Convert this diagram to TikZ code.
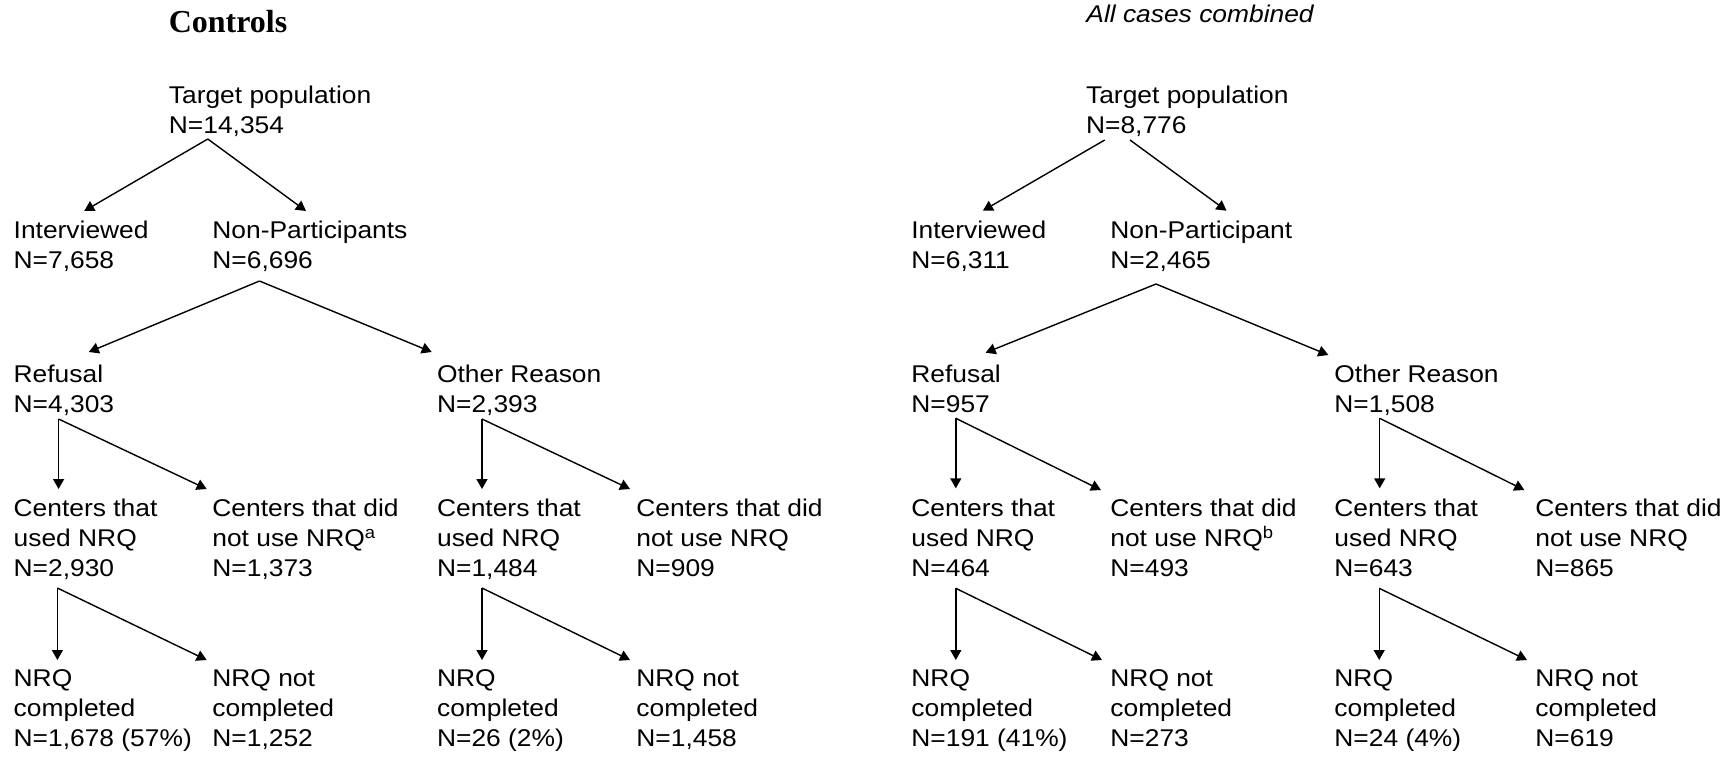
\documentclass[tikz,border=0pt]{standalone}
\usepackage{fontspec}
\setmainfont{Liberation Sans}[FakeStretch=1.09]
\newfontfamily\titlefont{Liberation Serif}
\usetikzlibrary{arrows.meta}
\tikzset{
  lbl/.style={anchor=north west, inner sep=0pt, align=left, font=\fontsize{12.1}{15}\selectfont},
  arr/.style={line width=0.7pt, -{Triangle[length=5pt,width=5.5pt]}},
}
\begin{document}
\begin{tikzpicture}[x=0.5pt,y=-0.5pt]
\useasboundingbox (0,0) rectangle (1729,757);
% titles
\node[anchor=base west, inner sep=0pt, font=\titlefont\bfseries\fontsize{16}{19}\selectfont] (t1) at (168.4,32) {Controls};
\node[anchor=base west, inner sep=0pt, font=\itshape\fontsize{12.1}{15}\selectfont] (t2) at (1086,22.5) {All cases combined};
% ---------- left tree ----------
\node[lbl] (tp1) at (168.5,85.5) {Target population\\N=14,354};
\node[lbl] (iv1) at (13.3,221) {Interviewed\\N=7,658};
\node[lbl] (np1) at (212,221) {Non-Participants\\N=6,696};
\node[lbl] (rf1) at (13.3,364.5) {Refusal\\N=4,303};
\node[lbl] (or1) at (436.7,364.5) {Other Reason\\N=2,393};
\node[lbl] (cu1) at (13.3,499) {Centers that\\used NRQ\\N=2,930};
\node[lbl] (cn1) at (212,499) {Centers that did\\not use NRQ\textsuperscript{a}\\N=1,373};
\node[lbl] (cu2) at (436.7,499) {Centers that\\used NRQ\\N=1,484};
\node[lbl] (cn2) at (636,499) {Centers that did\\not use NRQ\\N=909};
\node[lbl] (nc1) at (13.3,669.5) {NRQ\\completed\\N=1,678 (57\%)};
\node[lbl] (nn1) at (212,669.5) {NRQ not\\completed\\N=1,252};
\node[lbl] (nc2) at (436.7,669.5) {NRQ\\completed\\N=26 (2\%)};
\node[lbl] (nn2) at (636,669.5) {NRQ not\\completed\\N=1,458};
% ---------- right tree ----------
\node[lbl] (tp2) at (1085.7,85.5) {Target population\\N=8,776};
\node[lbl] (iv2) at (911,221) {Interviewed\\N=6,311};
\node[lbl] (np2) at (1110,221) {Non-Participant\\N=2,465};
\node[lbl] (rf2) at (911,364.5) {Refusal\\N=957};
\node[lbl] (or2) at (1334,364.5) {Other Reason\\N=1,508};
\node[lbl] (cu3) at (911,499) {Centers that\\used NRQ\\N=464};
\node[lbl] (cn3) at (1110,499) {Centers that did\\not use NRQ\textsuperscript{b}\\N=493};
\node[lbl] (cu4) at (1334,499) {Centers that\\used NRQ\\N=643};
\node[lbl] (cn4) at (1535,499) {Centers that did\\not use NRQ\\N=865};
\node[lbl] (nc3) at (911,669.5) {NRQ\\completed\\N=191 (41\%)};
\node[lbl] (nn3) at (1110,669.5) {NRQ not\\completed\\N=273};
\node[lbl] (nc4) at (1334,669.5) {NRQ\\completed\\N=24 (4\%)};
\node[lbl] (nn4) at (1535,669.5) {NRQ not\\completed\\N=619};
% ---------- connector ends ----------
\coordinate (tp1-o) at (207.8,139);
\coordinate (iv1-i) at (84.2,211);
\coordinate (np1-i) at (306,211);
\coordinate (np1-o) at (259.5,281);
\coordinate (rf1-i) at (88.8,352);
\coordinate (or1-i) at (431.7,352);
\coordinate (rf1-o) at (58.6,419);
\coordinate (cu1-i) at (58.6,489);
\coordinate (cn1-i) at (206.7,489);
\coordinate (or1-o) at (482,419);
\coordinate (cu2-i) at (482,489);
\coordinate (cn2-i) at (630,489);
\coordinate (cu1-o) at (57.4,588);
\coordinate (nc1-i) at (57.4,660);
\coordinate (nn1-i) at (206.7,660);
\coordinate (cu2-o) at (482,588);
\coordinate (nc2-i) at (482,660);
\coordinate (nn2-i) at (630,660);
%
\coordinate (tp2-oa) at (1104.7,140);
\coordinate (tp2-ob) at (1130,140);
\coordinate (iv2-i) at (982.9,210.7);
\coordinate (np2-i) at (1226.5,210.7);
\coordinate (np2-o) at (1156,284);
\coordinate (rf2-i) at (985.6,352.7);
\coordinate (or2-i) at (1328.3,355);
\coordinate (rf2-o) at (955.8,418.3);
\coordinate (cu3-i) at (955.8,488.3);
\coordinate (cn3-i) at (1100.9,490);
\coordinate (or2-o) at (1379.7,418.3);
\coordinate (cu4-i) at (1379.7,488.3);
\coordinate (cn4-i) at (1524.3,490);
\coordinate (cu3-o) at (955.8,588.3);
\coordinate (nc3-i) at (955.8,660);
\coordinate (nn3-i) at (1102,660);
\coordinate (cu4-o) at (1379.2,588.3);
\coordinate (nc4-i) at (1379.2,660);
\coordinate (nn4-i) at (1527,660);
% ---------- connectors ----------
\draw[arr] (tp1-o) -- (iv1-i);
\draw[arr] (tp1-o) -- (np1-i);
\draw[arr] (np1-o) -- (rf1-i);
\draw[arr] (np1-o) -- (or1-i);
\draw[arr] (rf1-o) -- (cu1-i);
\draw[arr] (rf1-o) -- (cn1-i);
\draw[arr] (or1-o) -- (cu2-i);
\draw[arr] (or1-o) -- (cn2-i);
\draw[arr] (cu1-o) -- (nc1-i);
\draw[arr] (cu1-o) -- (nn1-i);
\draw[arr] (cu2-o) -- (nc2-i);
\draw[arr] (cu2-o) -- (nn2-i);
\draw[arr] (tp2-oa) -- (iv2-i);
\draw[arr] (tp2-ob) -- (np2-i);
\draw[arr] (np2-o) -- (rf2-i);
\draw[arr] (np2-o) -- (or2-i);
\draw[arr] (rf2-o) -- (cu3-i);
\draw[arr] (rf2-o) -- (cn3-i);
\draw[arr] (or2-o) -- (cu4-i);
\draw[arr] (or2-o) -- (cn4-i);
\draw[arr] (cu3-o) -- (nc3-i);
\draw[arr] (cu3-o) -- (nn3-i);
\draw[arr] (cu4-o) -- (nc4-i);
\draw[arr] (cu4-o) -- (nn4-i);
\end{tikzpicture}
\end{document}
